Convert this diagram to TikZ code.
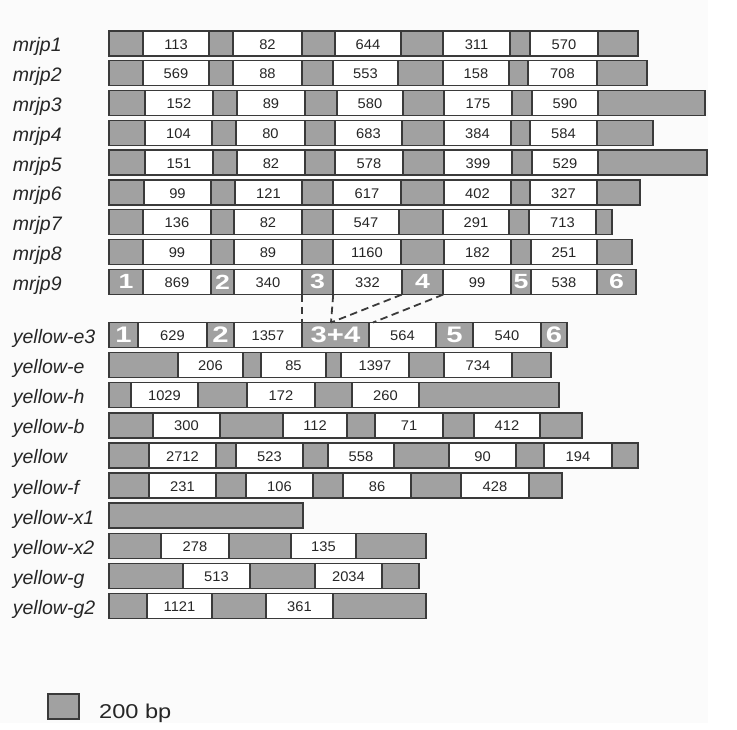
\documentclass[tikz,border=0pt]{standalone}
\usepackage{fontspec}
\setmainfont{Liberation Sans}
\newfontfamily\numfont[FakeStretch=1.05]{Liberation Sans}
\newfontfamily\bigfont[FakeStretch=1.3]{Liberation Sans}
\newfontfamily\legfont[FakeStretch=1.18]{Liberation Sans}
\definecolor{segfill}{RGB}{161,161,161}
\definecolor{edge}{RGB}{58,58,58}
\definecolor{txt}{RGB}{38,38,38}
\definecolor{bgc}{RGB}{251,251,251}
\tikzset{
  lab/.style={anchor=base west, inner sep=0pt, text=txt, font=\fontsize{19.5}{20}\selectfont\itshape},
  num/.style={inner sep=0pt, text=txt, font=\numfont\fontsize{14}{14}\selectfont},
  big/.style={inner sep=0pt, text=white, font=\bigfont\fontsize{20.5}{21}\selectfont\bfseries, minimum height=25pt},
  bigger/.style={big, font=\bigfont\fontsize{22.5}{23}\selectfont\bfseries},
  whitebox/.style={fill=white, draw=edge, line width=1.4pt},
  frame/.style={draw=edge, line width=1.4pt},
  link/.style={draw=edge, line width=1.8pt, dash pattern=on 7.5pt off 4.5pt},
  legtext/.style={anchor=base west, inner sep=0pt, text=txt, font=\legfont\fontsize{20}{21}\selectfont},
}
\newcommand\generow[5]{%
  \node[lab] (L#1) at (12.7,#3+8.5) {#2};
  \fill[segfill] (109,#3-12.5) rectangle (#4,#3+12.5);
  \foreach \a/\b/\t [count=\i] in {#5} {
     \draw[whitebox] (\a,#3-12.5) rectangle (\b,#3+12.5);
     \node[num] (#1w\i) at ({(\a+\b)/2},#3+0.8) {\t};
  }
  \draw[frame] (109,#3-12.5) rectangle (#4,#3+12.5);
}
\begin{document}
\begin{tikzpicture}[x=1pt,y=-1pt]
\useasboundingbox (0,0) rectangle (737,730);
\fill[white] (0,0) rectangle (737,730);
\fill[bgc] (0,0) rectangle (708,723);

\generow{a1}{mrjp1}{43.5}{638}{143/209/113,233/302/82,335/401/644,443/510/311,530/598/570}
\generow{a2}{mrjp2}{73.3}{647}{143/209/569,233/302/88,333/398/553,443/509/158,528/597/708}
\generow{a3}{mrjp3}{103.1}{705}{145/213/152,237/305/89,337/403/580,444/512/175,532/598/590}
\generow{a4}{mrjp4}{132.9}{653}{145/212/104,236/305/80,335/402/683,444/511/384,530/597/584}
\generow{a5}{mrjp5}{162.7}{707}{145/213/151,237/305/82,335/403/578,444/512/399,532/598/529}
\generow{a6}{mrjp6}{192.5}{640}{144/211/99,235/302/121,333/401/617,444/511/402,530/597/327}
\generow{a7}{mrjp7}{222.3}{612}{143/211/136,234/302/82,333/399/547,443/509/291,529/596/713}
\generow{a8}{mrjp8}{252.1}{632}{143/211/99,234/302/89,333/401/1160,444/511/182,531/597/251}
\generow{a9}{mrjp9}{281.9}{636}{143/211/869,234/302/340,333/402/332,443/511/99,531/597/538}
\node[big, minimum width=34pt] (m1) at (126,281.9) {1};
\node[big, minimum width=23pt] (m2) at (222.5,281.9) {2};
\node[big, minimum width=31pt] (m3) at (317.5,281.9) {3};
\node[big, minimum width=41pt] (m4) at (422.5,281.9) {4};
\node[big, minimum width=20pt] (m5) at (521,281.9) {5};
\node[big, minimum width=39pt] (m6) at (616.5,281.9) {6};

\generow{b1}{yellow-e3}{335}{567}{138/207/629,234/302/1357,369/436/564,473/541/540}
\node[bigger, minimum width=29pt] (e1) at (123.5,335) {1};
\node[bigger, minimum width=27pt] (e2) at (220.5,335) {2};
\node[bigger, minimum width=67pt] (e34) at (335.5,335) {3+4};
\node[bigger, minimum width=37pt] (e5) at (454.5,335) {5};
\node[bigger, minimum width=26pt] (e6) at (554,335) {6};

\generow{b2}{yellow-e}{365.1}{551}{178/243/206,261/326/85,341/409/1397,444/512/734}
\generow{b3}{yellow-h}{395.2}{559}{131/198/1029,247/315/172,352/419/260}
\generow{b4}{yellow-b}{425.3}{582}{153/220/300,283/347/112,375/443/71,474/540/412}
\generow{b5}{yellow}{455.4}{638}{149/216/2712,236/303/523,328/394/558,449/516/90,544/612/194}
\generow{b6}{yellow-f}{485.5}{562}{149/216/231,246/313/106,343/411/86,461/529/428}
\node[lab] (Lb7) at (12.7,524.1) {yellow-x1};
\fill[segfill] (109,503.1) rectangle (303,528.1);
\draw[frame] (109,503.1) rectangle (303,528.1);
\generow{b8}{yellow-x2}{545.7}{426}{161/229/278,291/356/135}
\generow{b9}{yellow-g}{575.8}{419}{183/250/513,315/382/2034}
\generow{b10}{yellow-g2}{605.9}{426}{147/212/1121,266/333/361}

% connectors
\coordinate (mid) at (331,322.5);
\coordinate (rgt) at (373,322.5);
\draw[link] (m3.south west) -- (e34.north west);
\draw[link] (m3.south east) -- (mid);
\draw[link] (m4.south west) -- (mid);
\draw[link] (m4.south east) -- (rgt);

% legend
\node[draw=edge, fill=segfill, line width=1.4pt, minimum width=31pt, minimum height=25pt, inner sep=0pt] (leg) at (63.5,706.5) {};
\node[legtext] (legt) at (99,718) {200 bp};
\end{tikzpicture}
\end{document}
